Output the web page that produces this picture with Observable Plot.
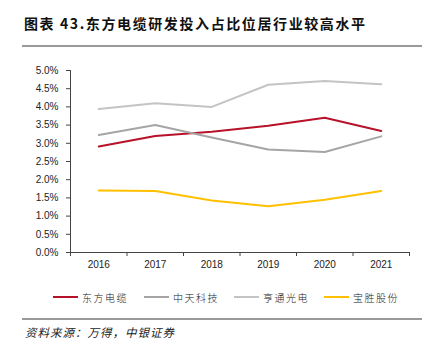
<!DOCTYPE html>
<html>
<head>
<meta charset="utf-8">
<script src="https://cdn.jsdelivr.net/npm/d3@7"></script>
<script src="https://cdn.jsdelivr.net/npm/@observablehq/plot@0.6"></script>
<style>
  html, body { margin: 0; padding: 0; background: #fff; }
  #wrap { position: relative; width: 428px; height: 352px; overflow: hidden; font-family: "Liberation Sans", Arial, sans-serif; }
  #title { position: absolute; left: 24px; top: 14px; font-family: "Noto Sans CJK SC", sans-serif; font-weight: bold; font-size: 14px; letter-spacing: 1.6px; color: #111; white-space: nowrap; line-height: 18px; }
  .rule { position: absolute; left: 22px; width: 400px; height: 2px; background: #9a9a9a; }
  #chart { position: absolute; left: 0; top: 0; }
  #legend { position: absolute; top: 289px; left: 0; width: 428px; height: 16px; }
  .item { position: absolute; top: 0; height: 16px; display: flex; align-items: center; font-family: "Noto Sans CJK SC", serif; font-weight: 300; font-size: 10px; letter-spacing: 1.5px; color: #222; white-space: nowrap; }
  .swatch { width: 25px; height: 2px; margin-right: 4px; }
  #source { position: absolute; left: 25px; top: 324px; font-family: "Noto Sans CJK SC", serif; font-style: italic; font-size: 11.5px; letter-spacing: 1px; color: #222; white-space: nowrap; line-height: 16px; }
</style>
</head>
<body>
<div id="wrap">
  <div id="title">图表 43.东方电缆研发投入占比位居行业较高水平</div>
  <div class="rule" style="top:45px"></div>
  <div id="chart"></div>
  <div id="legend"></div>
  <div class="rule" style="top:318px"></div>
  <div id="source">资料来源：万得，中银证券</div>
</div>
<script>
const years = [2016, 2017, 2018, 2019, 2020, 2021];
const seriesNames = ["东方电缆", "中天科技", "亨通光电", "宝胜股份"];
const dongfang = [0.0291, 0.0320, 0.0332, 0.0348, 0.0370, 0.0334];
const zhongtian = [0.0323, 0.0350, 0.0316, 0.0283, 0.0276, 0.0319];
const hengtong = [0.0394, 0.0410, 0.0400, 0.0461, 0.0471, 0.0462];
const baosheng = [0.0170, 0.0169, 0.0143, 0.0127, 0.0145, 0.0169];
const colors = ["#B8122A", "#A5A5A5", "#C4C4C4", "#FFC000"];
const yTicks = [0, 0.005, 0.01, 0.015, 0.02, 0.025, 0.03, 0.035, 0.04, 0.045, 0.05];

const allSeries = [dongfang, zhongtian, hengtong, baosheng];
const data = [];
seriesNames.forEach((name, i) => {
  years.forEach((yr, j) => data.push({series: name, year: yr, value: allSeries[i][j]}));
});
const bounds = years.map(y => y - 0.5).concat([years[years.length - 1] + 0.5]);

const chart = Plot.plot({
  width: 428,
  height: 280,
  marginTop: 70,
  marginBottom: 28,
  marginLeft: 70,
  marginRight: 19,
  style: {fontFamily: "Liberation Sans, Arial, sans-serif", fontSize: "10px", color: "#222", background: "transparent"},
  x: {domain: [bounds[0], bounds[bounds.length - 1]], axis: null, label: null},
  y: {domain: [0, 0.05], axis: null, label: null},
  color: {domain: seriesNames, range: colors},
  marks: [
    Plot.axisY({ticks: yTicks, tickFormat: d3.format(".1%"), tickSize: 4, tickPadding: 8, stroke: "#444", fill: "#222", label: null}),
    Plot.axisX({ticks: bounds, tickFormat: () => "", tickSize: 4, stroke: "#444", label: null}),
    Plot.axisX({ticks: years, tickFormat: d => String(d), tickSize: 0, tickPadding: 8.5, fill: "#222", label: null}),
    Plot.ruleX([bounds[0]], {stroke: "#444"}),
    Plot.ruleY([0], {stroke: "#444"}),
    Plot.lineY(data, {x: "year", y: "value", z: "series", stroke: "series", strokeWidth: 2})
  ]
});
document.getElementById("chart").appendChild(chart);

const legend = document.getElementById("legend");
const starts = [53, 144, 234, 324];
seriesNames.forEach((name, i) => {
  const it = document.createElement("div");
  it.className = "item";
  it.style.left = starts[i] + "px";
  const sw = document.createElement("div");
  sw.className = "swatch";
  sw.style.background = colors[i];
  it.appendChild(sw);
  const t = document.createElement("span");
  t.textContent = name;
  it.appendChild(t);
  legend.appendChild(it);
});
</script>
</body>
</html>
